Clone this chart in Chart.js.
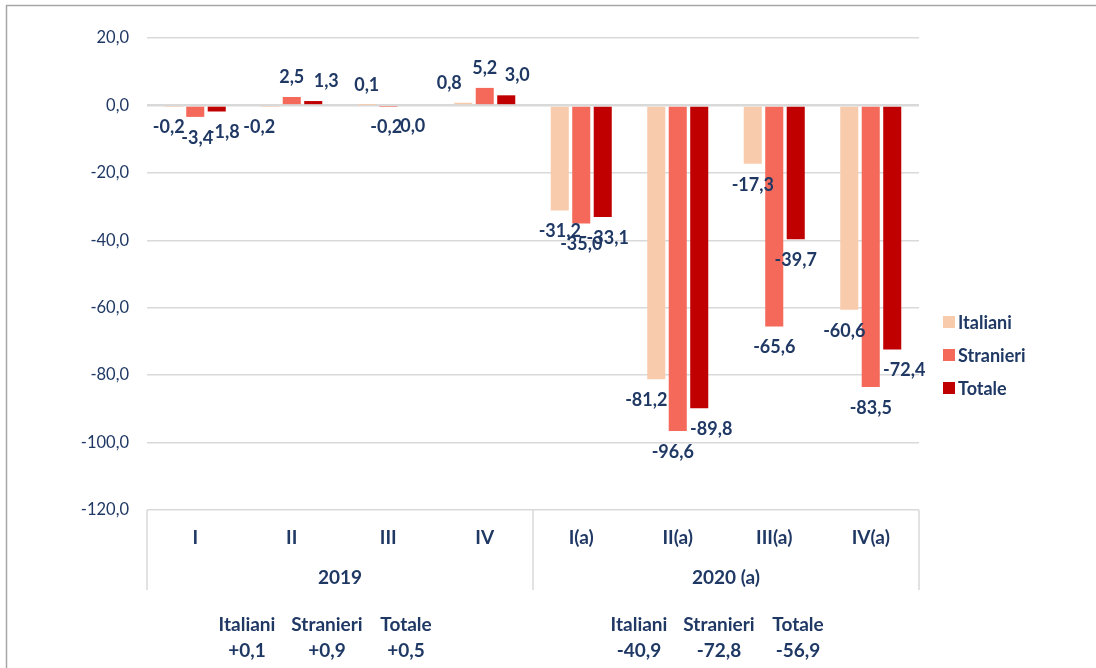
<!DOCTYPE html>
<html>
<head>
<meta charset="utf-8">
<script src="https://cdn.jsdelivr.net/npm/chart.js@4.4.1/dist/chart.umd.min.js"></script>
<style>
  html, body { margin: 0; padding: 0; background: #ffffff; }
  #wrap { position: relative; width: 1096px; height: 668px; }
</style>
</head>
<body>
<div id="wrap"><canvas id="c" width="1096" height="668"></canvas></div>
<script>
// ---- Data ----
const categories = ['I', 'II', 'III', 'IV', 'I(a)', 'II(a)', 'III(a)', 'IV(a)'];
const groupLabels = ['2019', '2020 (a)'];
const seriesNames = ['Italiani', 'Stranieri', 'Totale'];
const italiani  = [-0.2, -0.2, 0.1, 0.8, -31.2, -81.2, -17.3, -60.6];
const stranieri = [-3.4,  2.5, -0.2, 5.2, -35.0, -96.6, -65.6, -83.5];
const totale    = [-1.8,  1.3,  0.0, 3.0, -33.1, -89.8, -39.7, -72.4];
const annual2019 = [0.1, 0.9, 0.5];
const annual2020 = [-40.9, -72.8, -56.9];

// ---- Styles / label placement ----
const NAVY = '#1F3864';
const colors = ['#F8CBAD', '#F4695A', '#C00000'];
const FONT = 'Lato, "Liberation Sans", sans-serif';
const labelNudgeX = [
  [-5, -11, 0, -14, 0, -10, 0, -5],
  [2, 0, -2, 0, 0, -5, 0, 0],
  [7, 13, 3, 11, 5, 12, 0, 12]
];

function fmt(v) { return v.toFixed(1).replace('.', ','); }
function fmtSigned(v) { return (v > 0 ? '+' : '') + fmt(v); }

const PLOT_LEFT = 147, PLOT_RIGHT = 919;

const framePlugin = {
  id: 'frame',
  beforeDraw(chart) {
    const ctx = chart.ctx;
    ctx.save();
    ctx.fillStyle = '#ffffff';
    ctx.fillRect(0, 0, chart.width, chart.height);
    ctx.strokeStyle = '#A6A6A6';
    ctx.lineWidth = 1.5;
    ctx.beginPath();
    ctx.moveTo(6.5, chart.height);
    ctx.lineTo(6.5, 5.5);
    ctx.lineTo(chart.width, 5.5);
    ctx.stroke();
    ctx.restore();
  }
};

const extrasPlugin = {
  id: 'extras',
  afterDraw(chart) {
    const ctx = chart.ctx;
    const xs = chart.scales.x;
    const area = chart.chartArea;
    ctx.save();
    // group separators of the category axis
    ctx.strokeStyle = '#D9D9D9';
    ctx.lineWidth = 1.5;
    const bounds = [-0.5, 3.5, 7.5].map(i => {
      const a = xs.getPixelForValue(Math.floor(i));
      const b = xs.getPixelForValue(Math.ceil(i));
      return i < 0 ? xs.left : (i > 7 ? xs.right : (a + b) / 2);
    });
    bounds.forEach(bx => {
      ctx.beginPath();
      ctx.moveTo(bx, area.bottom);
      ctx.lineTo(bx, 590);
      ctx.stroke();
    });
    // bar value labels
    ctx.font = 'bold 18px ' + FONT;
    ctx.fillStyle = NAVY;
    ctx.textAlign = 'center';
    ctx.textBaseline = 'middle';
    chart.data.datasets.forEach((ds, di) => {
      const meta = chart.getDatasetMeta(di);
      meta.data.forEach((el, i) => {
        const v = ds.data[i];
        const y = v > 0 ? el.y - 20 : el.y + 21;
        ctx.fillText(fmt(v), el.x + labelNudgeX[di][i], y);
      });
    });
    // annual summary under each group
    const colOffsets = [-80, 0, 79];
    const groupShift = [-13, -7];
    const annual = [annual2019, annual2020];
    ctx.font = 'bold 19px ' + FONT;
    [0, 1].forEach(g => {
      const cx = (bounds[g] + bounds[g + 1]) / 2 + groupShift[g];
      seriesNames.forEach((n, k) => {
        ctx.fillText(n, cx + colOffsets[k], 625);
        ctx.fillText(fmtSigned(annual[g][k]), cx + colOffsets[k], 651);
      });
    });
    // legend
    ctx.textAlign = 'left';
    ctx.font = 'bold 18px ' + FONT;
    seriesNames.forEach((n, k) => {
      const cy = 322 + k * 33;
      ctx.fillStyle = colors[k];
      ctx.fillRect(943, cy - 6, 12, 12);
      ctx.fillStyle = NAVY;
      ctx.fillText(n, 958, cy + 1);
    });
    ctx.restore();
  }
};

new Chart(document.getElementById('c'), {
  type: 'bar',
  data: {
    labels: categories,
    datasets: [
      { label: seriesNames[0], data: italiani, backgroundColor: colors[0] },
      { label: seriesNames[1], data: stranieri, backgroundColor: colors[1] },
      { label: seriesNames[2], data: totale, backgroundColor: colors[2] }
    ]
  },
  options: {
    responsive: false,
    animation: false,
    devicePixelRatio: 1,
    layout: { padding: { left: 0, right: 1096 - PLOT_RIGHT, top: 38, bottom: 73 } },
    datasets: { bar: { categoryPercentage: 0.668, barPercentage: 0.84 } },
    plugins: { legend: { display: false }, tooltip: { enabled: false } },
    scales: {
      y: {
        min: -120, max: 20,
        ticks: {
          stepSize: 20,
          color: NAVY,
          font: { family: FONT, size: 16.5 },
          padding: 18,
          callback: v => fmt(v)
        },
        grid: {
          color: '#D9D9D9',
          lineWidth: c => (c.tick && c.tick.value === 0 ? 2.5 : 1.5),
          drawTicks: false
        },
        border: { display: false },
        afterFit(s) { s.width = PLOT_LEFT; }
      },
      x: {
        ticks: { color: NAVY, font: { family: FONT, size: 19, weight: 'bold' }, padding: 8 },
        grid: { display: false },
        border: { display: false },
        afterFit(s) { s.height = 45; }
      },
      x2: {
        type: 'category',
        labels: groupLabels,
        position: 'bottom',
        offset: true,
        ticks: { color: NAVY, font: { family: FONT, size: 19, weight: 'bold' }, padding: 3 },
        grid: { display: false },
        border: { display: false },
        afterFit(s) { s.height = 40; }
      }
    }
  },
  plugins: [framePlugin, extrasPlugin]
});
</script>
</body>
</html>
